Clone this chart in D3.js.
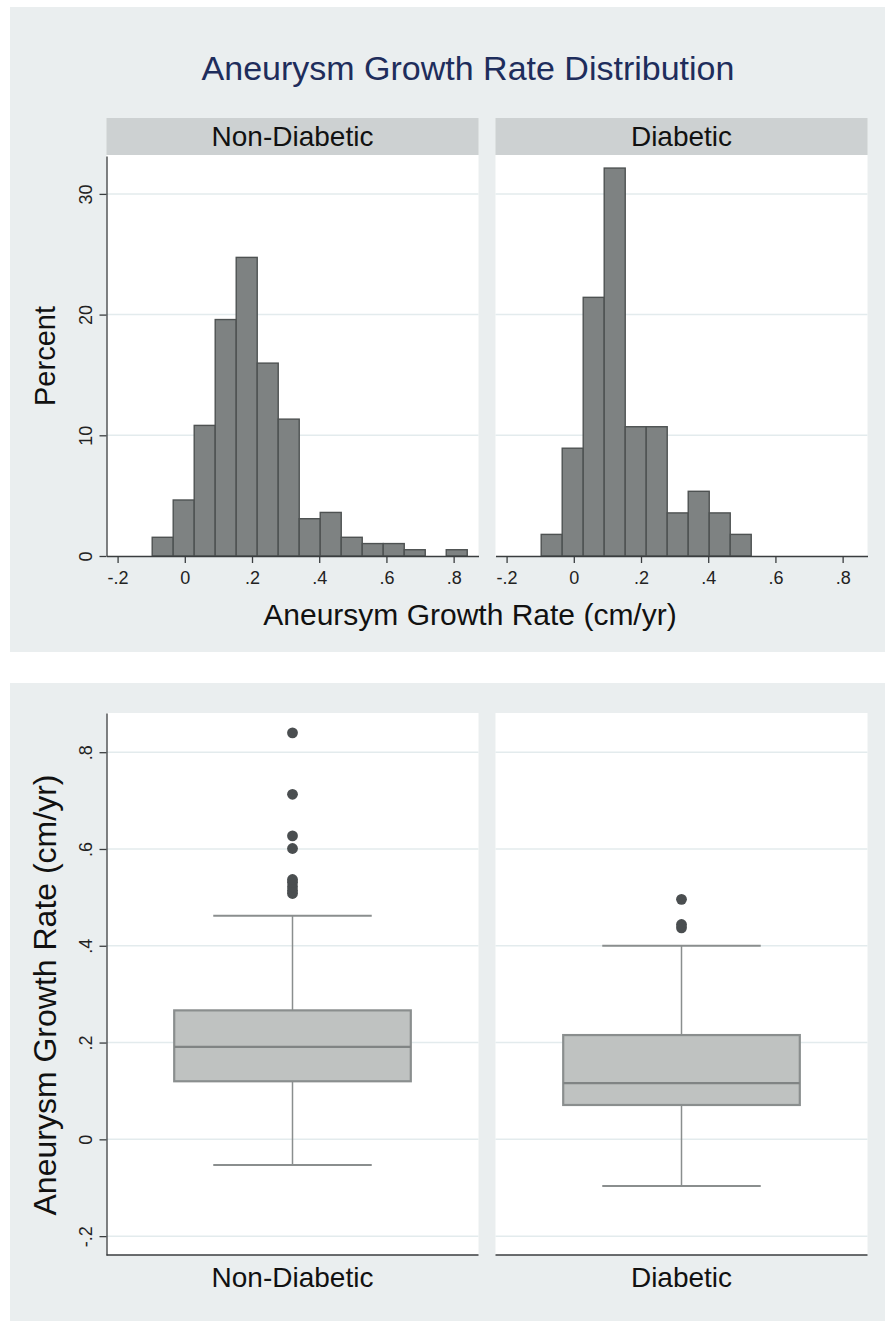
<!DOCTYPE html>
<html>
<head>
<meta charset="utf-8">
<script src="https://cdn.jsdelivr.net/npm/d3@7"></script>
<style>
  body { margin: 0; background: #fff; }
  svg text { font-family: "Liberation Sans", Arial, Helvetica, sans-serif; }
</style>
</head>
<body>
<div id="chart"></div>
<script>
// groups (facets / box categories)
const groups = ['Non-Diabetic', 'Diabetic'];

// histogram bin edges (cm/yr), shared by both facets
const binEdges = [-0.097, -0.0345, 0.028, 0.0905, 0.153, 0.2155, 0.278, 0.3405,
  0.403, 0.4655, 0.528, 0.5905, 0.653, 0.7155, 0.778, 0.8405];

// percent in each bin
const nonDiabeticPct = [1.55, 4.64, 10.82, 19.59, 24.74, 15.98, 11.34, 3.09, 3.61, 1.55, 1.03, 1.03, 0.52, 0, 0.52];
const diabeticPct = [1.79, 8.93, 21.43, 32.14, 10.71, 10.71, 3.57, 5.36, 3.57, 1.79, 0, 0, 0, 0, 0];

// box plot summary (cm/yr), order = groups
const boxQ1 = [0.120, 0.071];
const boxMedian = [0.191, 0.116];
const boxQ3 = [0.2665, 0.2155];
const whiskerLow = [-0.053, -0.0965];
const whiskerHigh = [0.462, 0.400];
const nonDiabeticOutliers = [0.508, 0.514, 0.522, 0.531, 0.537, 0.601, 0.627, 0.713, 0.840];
const diabeticOutliers = [0.437, 0.444, 0.496];

// tick values
const rateTicks = [-0.2, 0, 0.2, 0.4, 0.6, 0.8];
const percentTicks = [0, 10, 20, 30];

const W = 885, H = 1323;
// stata style: "-.2", "0", ".4"
const fmtRate = d => d === 0 ? '0' : d3.format('.1f')(d).replace('\u2212', '-').replace('0.', '.');

const svg = d3.select('#chart').append('svg')
  .attr('width', W).attr('height', H);

svg.append('rect').attr('width', W).attr('height', H).attr('fill', '#fff');

//panel backgrounds
svg.append('rect').attr('x', 10).attr('y', 7).attr('width', 875).attr('height', 645).attr('fill', '#eaeeef');
svg.append('rect').attr('x', 10).attr('y', 683).attr('width', 875).attr('height', 638).attr('fill', '#eaeeef');

const gridColor = '#e3ebed';
const axisColor = '#3a3d3f';

//facet band scale, shared top & bottom
const band = d3.scaleBand()
  .domain(groups)
  .range([106.5, 867.5])
  .paddingInner(0.0437)
  .paddingOuter(0);

// ---------------- HISTOGRAMS ----------------
const histTop = 156, histBottom = 556;
const yPct = d3.scaleLinear().domain([0, 33.14]).range([histBottom, histTop]);
const pctData = [nonDiabeticPct, diabeticPct];

svg.append('text')
  .attr('x', 468).attr('y', 80)
  .attr('text-anchor', 'middle')
  .style('font-size', '34px')
  .attr('fill', '#1e2d5c')
  .text('Aneurysm Growth Rate Distribution');

groups.forEach((g, gi) => {
  const x0 = band(g);
  const bw = band.bandwidth();
  const xScale = d3.scaleLinear().domain([-0.233, 0.874]).range([x0, x0 + bw]);

  //strip
  svg.append('rect').attr('x', x0).attr('y', 118).attr('width', bw).attr('height', 37).attr('fill', '#cdd1d2');
  svg.append('text')
    .attr('x', x0 + bw / 2).attr('y', 146)
    .attr('text-anchor', 'middle')
    .style('font-size', '28px')
    .attr('fill', '#111')
    .text(g);

  //plot region
  svg.append('rect').attr('x', x0).attr('y', histTop - 1).attr('width', bw).attr('height', histBottom - histTop + 1).attr('fill', '#fff');

  //gridlines
  svg.append('g').selectAll('line')
    .data(percentTicks.filter(d => d > 0))
    .join('line')
    .attr('x1', x0).attr('x2', x0 + bw)
    .attr('y1', d => yPct(d)).attr('y2', d => yPct(d))
    .attr('stroke', gridColor).attr('stroke-width', 1.5);

  //bars
  const bars = pctData[gi].map((v, i) => ({ x0: binEdges[i], x1: binEdges[i + 1], v }))
    .filter(d => d.v > 0);
  svg.append('g').selectAll('rect')
    .data(bars)
    .join('rect')
    .attr('x', d => xScale(d.x0))
    .attr('y', d => yPct(d.v))
    .attr('width', d => xScale(d.x1) - xScale(d.x0))
    .attr('height', d => yPct(0) - yPct(d.v))
    .attr('fill', '#7e8282')
    .attr('stroke', '#4e5252')
    .attr('stroke-width', 1.4);

  //x axis
  const xAxis = svg.append('g')
    .attr('transform', `translate(0, ${histBottom})`)
    .call(d3.axisBottom(xScale).tickValues(rateTicks).tickFormat(fmtRate).tickSize(7).tickPadding(8).tickSizeOuter(0));
  xAxis.select('.domain').attr('stroke', axisColor).attr('stroke-width', 1.3);
  xAxis.selectAll('.tick line').attr('stroke', axisColor).attr('stroke-width', 1.3);
  xAxis.selectAll('.tick text').attr('fill', '#222').style('font-size', '18px');

  if (gi === 0) {
    const yAxis = svg.append('g')
      .attr('transform', `translate(${x0}, 0)`)
      .call(d3.axisLeft(yPct).tickValues(percentTicks).tickSize(7).tickSizeOuter(0));
    yAxis.select('.domain').attr('stroke', axisColor).attr('stroke-width', 1.3);
    yAxis.selectAll('.tick line').attr('stroke', axisColor).attr('stroke-width', 1.3);
    yAxis.selectAll('.tick text')
      .attr('fill', '#222').style('font-size', '18px')
      .attr('transform', 'rotate(-90)')
      .attr('x', 0).attr('y', -15).attr('dy', 0)
      .style('text-anchor', 'middle');
  }
});

svg.append('text')
  .attr('x', 470).attr('y', 625)
  .attr('text-anchor', 'middle')
  .style('font-size', '30px')
  .attr('fill', '#111')
  .text('Aneursym Growth Rate (cm/yr)');

svg.append('text')
  .attr('transform', 'translate(55, 356) rotate(-90)')
  .attr('text-anchor', 'middle')
  .style('font-size', '29px')
  .attr('fill', '#111')
  .text('Percent');

// ---------------- BOX PLOTS ----------------
const boxTop = 713, boxBottom = 1255;
const yRate = d3.scaleLinear().domain([-0.239, 0.881]).range([boxBottom, boxTop]);
const outlierData = [nonDiabeticOutliers, diabeticOutliers];

groups.forEach((g, gi) => {
  const x0 = band(g);
  const bw = band.bandwidth();
  const cx = x0 + bw / 2;
  const boxW = bw * 0.636;
  const capW = bw * 0.426;

  svg.append('rect').attr('x', x0).attr('y', boxTop).attr('width', bw).attr('height', boxBottom - boxTop).attr('fill', '#fff');

  svg.append('g').selectAll('line')
    .data(rateTicks)
    .join('line')
    .attr('x1', x0).attr('x2', x0 + bw)
    .attr('y1', d => yRate(d)).attr('y2', d => yRate(d))
    .attr('stroke', gridColor).attr('stroke-width', 1.5);

  const stroke = '#8a8e8e';
  //whiskers
  svg.append('line').attr('x1', cx).attr('x2', cx)
    .attr('y1', yRate(boxQ3[gi])).attr('y2', yRate(whiskerHigh[gi]))
    .attr('stroke', stroke).attr('stroke-width', 1.5);
  svg.append('line').attr('x1', cx).attr('x2', cx)
    .attr('y1', yRate(boxQ1[gi])).attr('y2', yRate(whiskerLow[gi]))
    .attr('stroke', stroke).attr('stroke-width', 1.5);
  [whiskerHigh[gi], whiskerLow[gi]].forEach(v => {
    svg.append('line').attr('x1', cx - capW / 2).attr('x2', cx + capW / 2)
      .attr('y1', yRate(v)).attr('y2', yRate(v))
      .attr('stroke', stroke).attr('stroke-width', 2);
  });

  //box
  svg.append('rect')
    .attr('x', cx - boxW / 2).attr('y', yRate(boxQ3[gi]))
    .attr('width', boxW).attr('height', yRate(boxQ1[gi]) - yRate(boxQ3[gi]))
    .attr('fill', '#bfc2c1').attr('stroke', stroke).attr('stroke-width', 2.2);
  svg.append('line').attr('x1', cx - boxW / 2).attr('x2', cx + boxW / 2)
    .attr('y1', yRate(boxMedian[gi])).attr('y2', yRate(boxMedian[gi]))
    .attr('stroke', '#808484').attr('stroke-width', 2.2);

  //outliers
  svg.append('g').selectAll('circle')
    .data(outlierData[gi])
    .join('circle')
    .attr('cx', cx).attr('cy', d => yRate(d)).attr('r', 5.4)
    .attr('fill', '#4a4e50');

  //category axis line + label
  svg.append('line').attr('x1', x0).attr('x2', x0 + bw)
    .attr('y1', boxBottom).attr('y2', boxBottom)
    .attr('stroke', axisColor).attr('stroke-width', 1.3);
  svg.append('text')
    .attr('x', cx).attr('y', 1287)
    .attr('text-anchor', 'middle')
    .style('font-size', '28px')
    .attr('fill', '#111')
    .text(g);
});

const yAxisB = svg.append('g')
  .attr('transform', `translate(${band(groups[0])}, 0)`)
  .call(d3.axisLeft(yRate).tickValues(rateTicks).tickFormat(fmtRate).tickSize(7).tickSizeOuter(0));
yAxisB.select('.domain').attr('stroke', axisColor).attr('stroke-width', 1.3);
yAxisB.selectAll('.tick line').attr('stroke', axisColor).attr('stroke-width', 1.3);
yAxisB.selectAll('.tick text')
  .attr('fill', '#222').style('font-size', '18px')
  .attr('transform', 'rotate(-90)')
  .attr('x', 0).attr('y', -15).attr('dy', 0)
  .style('text-anchor', 'middle');

svg.append('text')
  .attr('transform', 'translate(56, 995) rotate(-90)')
  .attr('text-anchor', 'middle')
  .style('font-size', '32px')
  .attr('fill', '#111')
  .text('Aneurysm Growth Rate (cm/yr)');
</script>
</body>
</html>
